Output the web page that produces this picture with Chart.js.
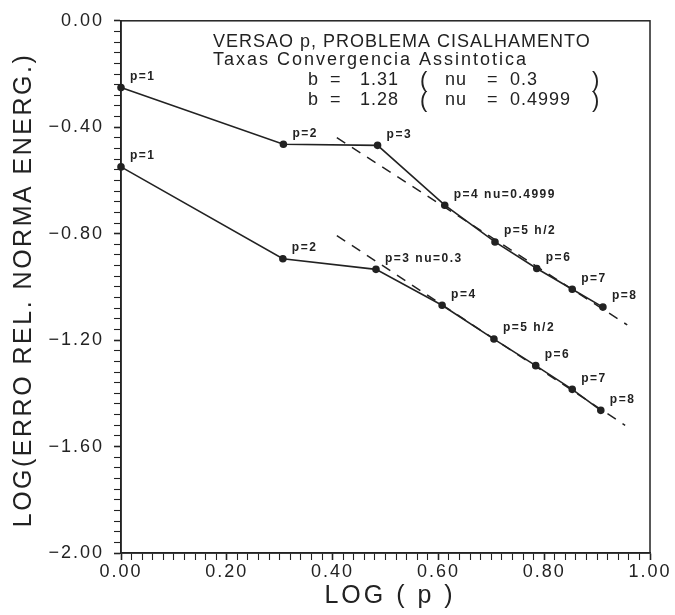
<!DOCTYPE html>
<html>
<head>
<meta charset="utf-8">
<script src="https://cdn.jsdelivr.net/npm/chart.js@4.4.0/dist/chart.umd.min.js"></script>
<style>
  html, body { margin: 0; padding: 0; background: #ffffff; }
  #wrap { width: 675px; height: 615px; }
</style>
</head>
<body>
<div id="wrap"><canvas id="chartConv"></canvas></div>
<script>
// nu = 0.4999 (curva de cima)
const upperX = [0.000, 0.307, 0.485, 0.612, 0.707, 0.786, 0.853, 0.911];
const upperY = [-0.251, -0.464, -0.468, -0.693, -0.831, -0.931, -1.009, -1.076];
const upperLabels = ['p=1', 'p=2', 'p=3', 'p=4 nu=0.4999', 'p=5 h/2', 'p=6', 'p=7', 'p=8'];

// nu = 0.3 (curva de baixo)
const lowerX = [0.000, 0.306, 0.482, 0.607, 0.705, 0.784, 0.853, 0.907];
const lowerY = [-0.549, -0.894, -0.934, -1.069, -1.196, -1.296, -1.385, -1.464];
const lowerLabels = ['p=1', 'p=2', 'p=3 nu=0.3', 'p=4', 'p=5 h/2', 'p=6', 'p=7', 'p=8'];

// retas assintoticas (tracejadas)
const upperFitX = [0.408, 0.957];
const upperFitY = [-0.439, -1.143];
const lowerFitX = [0.408, 0.953];
const lowerFitY = [-0.807, -1.520];

const titleLines = [
    'VERSAO p, PROBLEMA CISALHAMENTO',
    'Taxas Convergencia Assintotica'
];
const rateB = ['1.31', '1.28'];
const rateNu = ['0.3', '0.4999'];
const xTitle = 'LOG ( p )';
const yTitle = 'LOG(ERRO REL. NORMA ENERG.)';

const ink = '#222222';
const fontFam = '"Liberation Sans", Arial, sans-serif';

let toPoints = (xs, ys) => xs.map((x, i) => ({ x: x, y: ys[i] }));

let isMajor = (v, step) => Math.abs(v / step - Math.round(v / step)) < 1e-6;
let fmt = (v) => v.toFixed(2).replace('-', '\u2212');

// textos, moldura e rotulos dos pontos
const textPlugin = {
    id: 'textPlugin',
    beforeDraw: (chart) => {
        chart.ctx.letterSpacing = '2px';
    },
    afterDraw: (chart) => {
        const ctx = chart.ctx;
        const a = chart.chartArea;
        const xs = chart.scales.x;
        const ys = chart.scales.y;
        ctx.save();
        // moldura
        ctx.strokeStyle = ink;
        ctx.lineWidth = 1.5;
        ctx.strokeRect(a.left, a.top, a.right - a.left, a.bottom - a.top);

        ctx.fillStyle = ink;
        // rotulos p=..
        ctx.font = 'bold 12px ' + fontFam;
        ctx.letterSpacing = '1.5px';
        ctx.textAlign = 'left';
        ctx.textBaseline = 'middle';
        upperLabels.forEach((t, i) => {
            ctx.fillText(t, xs.getPixelForValue(upperX[i]) + 9, ys.getPixelForValue(upperY[i]) - 11);
        });
        lowerLabels.forEach((t, i) => {
            ctx.fillText(t, xs.getPixelForValue(lowerX[i]) + 9, ys.getPixelForValue(lowerY[i]) - 11);
        });

        // titulo dentro do grafico
        ctx.font = '18px ' + fontFam;
        ctx.letterSpacing = '1px';
        ctx.fillText(titleLines[0], 213, 42);
        ctx.letterSpacing = '2px';
        ctx.fillText(titleLines[1], 213, 60);
        ctx.letterSpacing = '1px';
        [80, 100].forEach((yy, i) => {
            ctx.font = '18px ' + fontFam;
            ctx.fillText('b', 308, yy);
            ctx.fillText('=', 330, yy);
            ctx.fillText(rateB[i], 360, yy);
            ctx.fillText('nu', 445, yy);
            ctx.fillText('=', 487, yy);
            ctx.fillText(rateNu[i], 510, yy);
            ctx.font = '22px ' + fontFam;
            ctx.fillText('(', 420, yy + 1);
            ctx.fillText(')', 592, yy + 1);
        });

        // titulos dos eixos
        ctx.font = '25px ' + fontFam;
        ctx.letterSpacing = '3px';
        ctx.textAlign = 'center';
        ctx.fillText(xTitle, 390, 596);
        ctx.letterSpacing = '2.5px';
        ctx.translate(24, 290);
        ctx.rotate(-Math.PI / 2);
        ctx.fillText(yTitle, 0, 0);
        ctx.restore();
    }
};

new Chart('chartConv', {
    type: 'scatter',
    data: {
        datasets: [{
            data: toPoints(upperX, upperY),
            showLine: true,
            borderColor: ink,
            backgroundColor: ink,
            borderWidth: 1.6,
            pointRadius: 3,
            clip: false
        }, {
            data: toPoints(lowerX, lowerY),
            showLine: true,
            borderColor: ink,
            backgroundColor: ink,
            borderWidth: 1.6,
            pointRadius: 3,
            clip: false
        }, {
            data: toPoints(upperFitX, upperFitY),
            showLine: true,
            borderColor: ink,
            borderWidth: 1.5,
            borderDash: [10, 8],
            pointRadius: 0
        }, {
            data: toPoints(lowerFitX, lowerFitY),
            showLine: true,
            borderColor: ink,
            borderWidth: 1.5,
            borderDash: [10, 8],
            pointRadius: 0
        }]
    },
    options: {
        responsive: true,
        maintainAspectRatio: false,
        animation: false,
        layout: { padding: { top: 16, right: 25, left: 0, bottom: 0 } },
        plugins: {
            legend: { display: false },
            tooltip: { enabled: false }
        },
        scales: {
            x: {
                type: 'linear',
                min: 0,
                max: 1,
                afterFit: (s) => { s.height = 62; },
                border: { color: ink, width: 1.5 },
                grid: {
                    drawOnChartArea: false,
                    tickLength: 7,
                    tickColor: ink,
                    tickWidth: (c) => isMajor(c.tick.value, 0.2) ? 1.6 : 1.1
                },
                ticks: {
                    stepSize: 0.02,
                    autoSkip: false,
                    maxRotation: 0,
                    padding: 1,
                    color: ink,
                    font: { family: fontFam, size: 18 },
                    callback: (v) => isMajor(v, 0.2) ? fmt(v) : ''
                }
            },
            y: {
                type: 'linear',
                min: -2,
                max: 0,
                afterFit: (s) => { s.width = 121; },
                border: { color: ink, width: 1.5 },
                grid: {
                    drawOnChartArea: false,
                    tickLength: 7,
                    tickColor: ink,
                    tickWidth: (c) => isMajor(c.tick.value, 0.4) ? 1.6 : 1.1
                },
                ticks: {
                    stepSize: 0.04,
                    autoSkip: false,
                    padding: 10,
                    color: ink,
                    font: { family: fontFam, size: 18 },
                    callback: (v) => isMajor(v, 0.4) ? fmt(v) : ''
                }
            }
        }
    },
    plugins: [textPlugin]
});
</script>
</body>
</html>
